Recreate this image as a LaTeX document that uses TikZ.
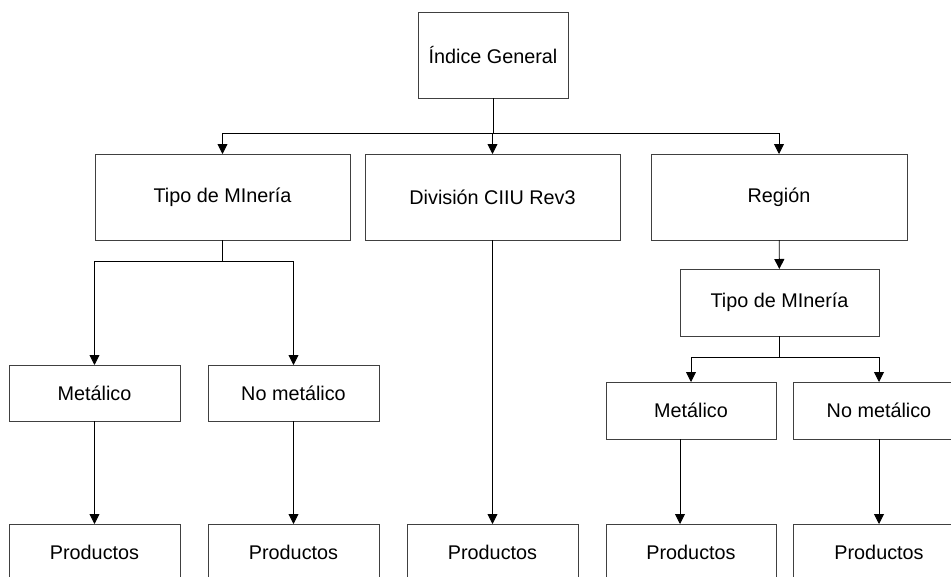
\documentclass[tikz,border=0pt]{standalone}
\usepackage{fontspec}
\setmainfont{Liberation Sans}
\usetikzlibrary{arrows.meta}

\tikzset{
  box/.style={draw=black!75, line width=0.9pt, outer sep=0pt, inner sep=2pt,
    font=\fontsize{19.8}{24}\selectfont},
  link/.style={line width=0.9pt},
  arr/.style={link, -{Triangle[length=10pt,width=10pt]}}
}

\begin{document}
\begin{tikzpicture}[x=1pt, y=-1pt]
\useasboundingbox (0,0) rectangle (951,576);
\clip (0,0) rectangle (951,576);

% Define nodes with names to reference them later
\node[box, minimum width=150pt, minimum height=86pt] (top) at (493,55) {Índice General};

\node[box, minimum width=255pt, minimum height=86pt] (tipoA) at (222.5,197) {Tipo de MInería};
\node[box, minimum width=255pt, minimum height=86pt] (div) at (492.5,197) {División CIIU Rev3};
\node[box, minimum width=256pt, minimum height=86pt] (reg) at (779,197) {Región};

\node[box, minimum width=171pt, minimum height=56pt] (metA) at (94.5,393) {Metálico};
\node[box, minimum width=171pt, minimum height=56pt] (nometA) at (293.5,393) {No metálico};

\node[box, minimum width=199pt, minimum height=67pt] (tipoB) at (779.5,302.5) {Tipo de MInería};
\node[box, minimum width=170pt, minimum height=57pt] (metB) at (691,410.5) {Metálico};
\node[box, minimum width=172pt, minimum height=57pt] (nometB) at (879,410.5) {No metálico};

\node[box, minimum width=171pt, minimum height=56pt] (prodA) at (94.5,552) {Productos};
\node[box, minimum width=171pt, minimum height=56pt] (prodB) at (293.5,552) {Productos};
\node[box, minimum width=171pt, minimum height=56pt] (prodC) at (492.5,552) {Productos};
\node[box, minimum width=170pt, minimum height=56pt] (prodD) at (691,552) {Productos};
\node[box, minimum width=172pt, minimum height=56pt] (prodE) at (879,552) {Productos};

% Branching points
\coordinate (busTop) at (493,133);
\coordinate (busA) at (222.5,261);
\coordinate (busB) at (779.5,357);

% Connectors
\draw[link] (top) -- (busTop);
\draw[arr] (busTop) -| (tipoA);
\draw[arr] (busTop) -- (busTop -| div) -- (div);
\draw[arr] (busTop) -| (reg);

\draw[link] (tipoA) -- (busA);
\draw[arr] (busA) -| (metA);
\draw[arr] (busA) -| (nometA);

\draw[arr] (div) -- (prodC);
\draw[arr] (reg) -- (tipoB);

\draw[link] (tipoB) -- (busB);
\draw[arr] (busB) -| (metB);
\draw[arr] (busB) -| (nometB);

\draw[arr] (metA) -- (prodA);
\draw[arr] (nometA) -- (prodB);
\draw[arr] ([xshift=-11pt]metB.south) -- ([xshift=-11pt]prodD.north);
\draw[arr] (nometB) -- (prodE);

\end{tikzpicture}
\end{document}
